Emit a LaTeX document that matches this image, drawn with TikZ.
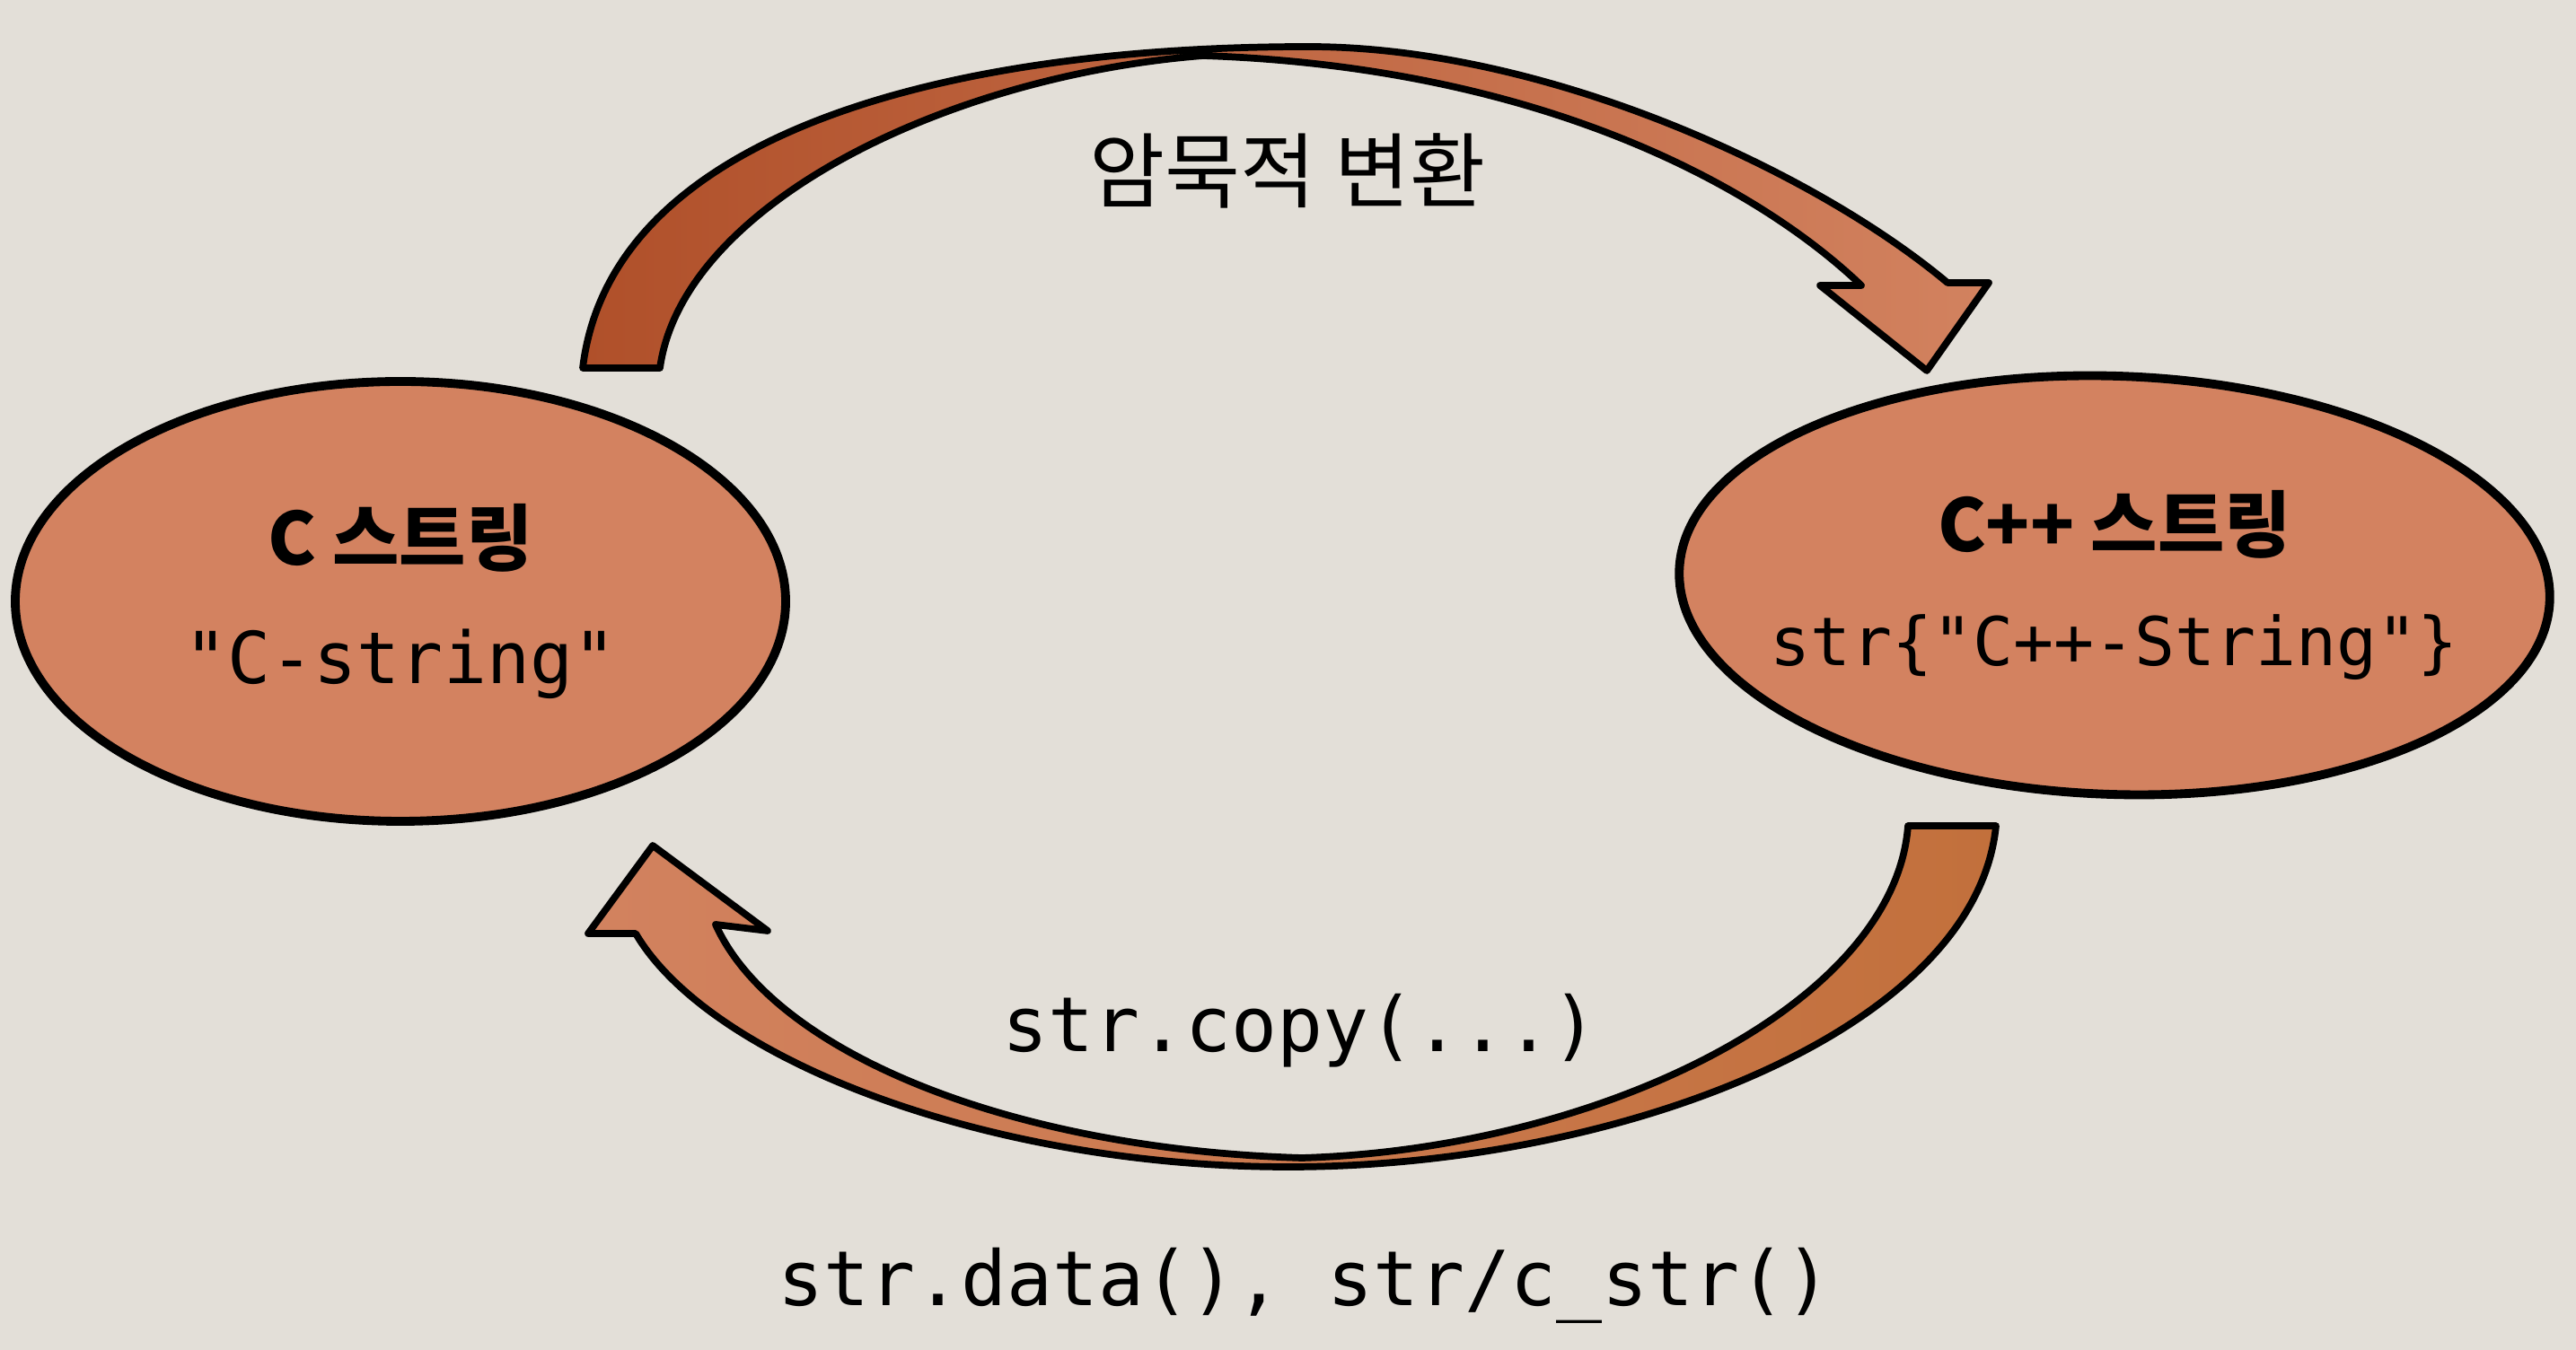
\documentclass[tikz,border=0pt]{standalone}
\usepackage{fontspec}
\setmonofont{DejaVu Sans Mono}
\newfontfamily\kr{Noto Sans CJK KR}
\usetikzlibrary{shapes.geometric}
\definecolor{paper}{RGB}{227,223,216}
\definecolor{strfill}{RGB}{211,130,96}
\definecolor{arrowdark}{RGB}{176,80,42}
\definecolor{arrowlight}{RGB}{210,130,95}
\definecolor{arrowcopper}{RGB}{194,112,60}

\begin{document}
\begin{tikzpicture}[
    strnode/.style={ellipse, draw, line width=2.8pt, fill=strfill, inner sep=0pt},
    strtext/.style={align=center, inner sep=0pt},
    bigarrow/.style={draw, line width=2.2pt, line join=round},
    code/.style={font=\ttfamily\fontsize{24.1}{28}\selectfont}
  ]
    \fill [paper] (0,0) rectangle (28.69,15.04);
    \useasboundingbox (0,0) rectangle (28.69,15.04);

    % the two strings
    \node [strnode, minimum width=8.58cm, minimum height=4.90cm] (cstr) at (4.46,8.34) {};
    \node [strtext, font=\fontsize{23}{37.8}\selectfont] (cstr text) at (cstr.center)
      {{\kr\bfseries C 스트링}\\{\ttfamily\fontsize{22.7}{37.8}\selectfont "C-string"}};
    \node [strnode, minimum width=9.70cm, minimum height=4.66cm, rotate=-2] (cppstr) at (23.55,8.52) {};
    \node [strtext, font=\fontsize{23}{36.4}\selectfont] (cppstr text) at (cppstr.center)
      {{\kr\bfseries C++ 스트링}\\{\ttfamily\fontsize{21.3}{36.4}\selectfont str\{"C++-String"\}}};

    % implicit conversion, C -> C++
    \coordinate (up tip) at (21.46,10.91);
    \draw [bigarrow, left color=arrowdark, right color=arrowlight]
      (7.35,10.94) -- (6.49,10.94)
      .. controls (6.80,13.54) and (10.50,14.52) .. (14.57,14.52)
      .. controls (17.20,14.52) and (20.20,13.14) .. (21.69,11.89)
      -- (22.15,11.89) -- (up tip) -- (20.27,11.86) -- (20.73,11.86)
      .. controls (19.60,12.94) and (17.20,14.29) .. (13.40,14.42)
      .. controls (10.50,14.19) and (7.60,12.74) .. (7.35,10.94) -- cycle;

    % copy back, C++ -> C
    \coordinate (down tip) at (7.27,5.62);
    \draw [bigarrow, left color=arrowlight, right color=arrowcopper]
      (7.08,4.64)
      .. controls (7.90,3.24) and (11.00,2.04) .. (14.35,2.04)
      .. controls (18.00,2.04) and (22.00,3.54) .. (22.23,5.84)
      -- (21.25,5.84)
      .. controls (21.10,3.84) and (17.80,2.24) .. (14.50,2.14)
      .. controls (11.20,2.24) and (8.60,3.34) .. (7.97,4.74)
      -- (8.55,4.67) -- (down tip) -- (6.55,4.64) -- cycle;

    \node [font=\kr\fontsize{26}{30}\selectfont] (implicit) at (14.34,13.14) {암묵적 변환};
    \node [code, anchor=base] (copy) at (14.48,3.32) {str.copy(...)};
    \node [code, anchor=base] (data) at (14.53,0.49) {str.data(), str/c\_str()};
  \end{tikzpicture}
\end{document}
